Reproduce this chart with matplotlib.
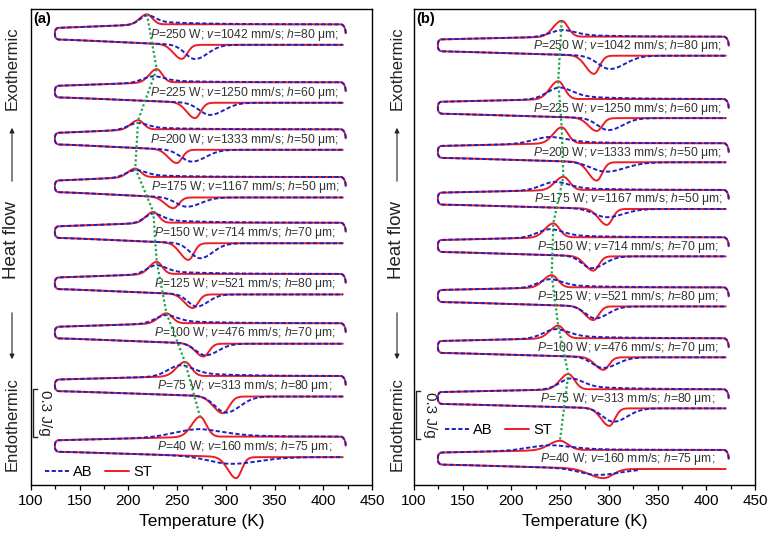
import matplotlib
matplotlib.use("Agg")
import matplotlib.pyplot as plt
import numpy as np

plt.rcParams["font.family"] = ["Liberation Sans", "DejaVu Sans"]
plt.rcParams["mathtext.fontset"] = "custom"
plt.rcParams["mathtext.rm"] = "Liberation Sans"
plt.rcParams["mathtext.it"] = "Liberation Sans:italic"

# process parameters, top loop first
POWER = [250, 225, 200, 175, 150, 125, 100, 75, 40]
SPEED = [1042, 1250, 1333, 1167, 714, 521, 476, 313, 160]
HATCH = [80, 60, 50, 50, 70, 80, 70, 80, 75]
LABEL_T = [222, 222, 222, 223, 226, 226, 226, 229, 229]

# panel (a): baseline (J/g), exothermic / endothermic peaks (T in K, height in J/g, width in K)
A_BASE = [2.879, 2.517, 2.223, 1.925, 1.639, 1.319, 1.011, 0.681, 0.302]
A_EXO_ST_T = [219, 229, 210, 207, 225.5, 229, 239, 258, 273.5]
A_EXO_ST_H = [0.064, 0.083, 0.058, 0.054, 0.069, 0.077, 0.063, 0.089, 0.125]
A_EXO_ST_W = [7.5, 7.5, 7.5, 7.5, 7.5, 7.5, 8, 8.5, 8.5]
A_EXO_AB_T = [220, 226, 210, 208, 226, 229, 239, 254, 273]
A_EXO_AB_H = [0.058, 0.039, 0.041, 0.044, 0.059, 0.056, 0.052, 0.069, 0.048]
A_EXO_AB_W = [8, 11, 10, 10, 9, 10, 11, 13, 25]
A_ENDO_ST_T = [254.7, 268.3, 249.5, 246, 261.5, 266, 277, 296.8, 310.5]
A_ENDO_ST_D = [0.089, 0.097, 0.084, 0.068, 0.105, 0.086, 0.081, 0.105, 0.132]
A_ENDO_ST_W = [7, 7, 7, 7, 7, 7, 7, 8, 7]
A_ENDO_AB_T = [268.3, 283.7, 265, 260, 273.5, 270, 279, 300, 304]
A_ENDO_AB_D = [0.089, 0.076, 0.074, 0.058, 0.094, 0.076, 0.073, 0.101, 0.043]
A_ENDO_AB_W = [10, 11, 11, 11, 10, 9, 10, 11, 22]
A_AB_LOWER_END = [420] * 9
A_GAPS = (0.022, 0.094, 0.128)

# panel (b)
B_BASE = [2.802, 2.412, 2.136, 1.844, 1.548, 1.235, 0.917, 0.598, 0.219]
B_EXO_ST_T = [251.6, 248, 251.6, 253.3, 243, 241.3, 248, 258.4, 249.8]
B_EXO_ST_H = [0.1, 0.1125, 0.1, 0.083, 0.0875, 0.077, 0.079, 0.096, 0.058]
B_EXO_ST_W = [8.5, 8.5, 8.5, 8.5, 8.5, 8.5, 8.5, 8.5, 11]
B_EXO_AB_T = [253, 250, 240, 245, 240, 240, 246, 261.8, 240]
B_EXO_AB_H = [0.042, 0.073, 0.041, 0.052, 0.052, 0.052, 0.058, 0.069, 0.031]
B_EXO_AB_W = [13, 13, 17, 14, 13, 12, 13, 12, 22]
B_ENDO_ST_T = [284.7, 287.5, 287.5, 298, 284, 284, 294.4, 300.5, 294.4]
B_ENDO_ST_D = [0.114, 0.081, 0.115, 0.1, 0.09, 0.086, 0.079, 0.11, 0.058]
B_ENDO_ST_W = [7, 7, 7, 7, 7, 7, 7, 7, 12]
B_ENDO_AB_T = [301, 299.5, 297, 297.8, 282.4, 286, 294, 304.6, 287.5]
B_ENDO_AB_D = [0.083, 0.075, 0.059, 0.052, 0.075, 0.075, 0.067, 0.084, 0.038]
B_ENDO_AB_W = [12, 11, 15, 13, 10, 10, 11, 11, 18]
B_AB_LOWER_END = [420] * 8 + [330]
B_GAPS = (0.016, 0.091, 0.119)

RED = "#ee1c24"
BLUE = "#1f1fc4"
GREEN = "#1fa24a"


def half_gauss(t, t0, s_left, s_right):
    s = np.where(t < t0, s_left, s_right)
    return np.exp(-0.5 * ((t - t0) / s) ** 2)


def exo_st(t, t0, h, w):
    return h * half_gauss(t, t0, w, 0.75 * w)


def exo_ab(t, t0, h, w, frac=0.35, tau=45.0):
    g = np.exp(-0.5 * ((t - t0) / w) ** 2)
    tail = np.exp(-np.clip(t - t0, 0, None) / tau)
    return h * np.where(t < t0, g, (1 - frac) * g + frac * tail)


def soft_ramp(t, a, b, k=6.0):
    # 0 below a, 1 above b, linear in between with rounded corners
    sp = lambda z: k * np.logaddexp(0, z / k)
    return (sp(t - a) - sp(t - b)) / (b - a)


def build_loop(base, gaps, t_exo, t_endo, up_peak, lo_peak, lo_end=420):
    ul, ll, lr = base - gaps[0], base - gaps[1], base - gaps[2]
    # curl at the right end of the cooling branch
    phi = np.linspace(np.pi / 2, 0, 25)
    t_curl = 418 + 5 * np.sin(phi)
    y_curl = base - 0.056 * (1 - np.cos(phi))
    t_up = np.linspace(418, 130, 600)
    y_up = ul + (base - ul) * soft_ramp(t_up, 130, t_exo) + up_peak(t_up)
    t_lo = np.linspace(130, lo_end, 600)
    y_lo = ll + (lr - ll) * soft_ramp(t_lo, 130, t_endo) - lo_peak(t_lo)
    # rounded cap joining the branches at the low temperature end
    th = np.linspace(0, np.pi, 40)
    top, bot = y_up[-1], y_lo[0]
    mid, half = (top + bot) / 2, (top - bot) / 2
    t_cap = 130 - 5.5 * np.abs(np.sin(th)) ** 0.75
    y_cap = mid + half * np.sign(np.cos(th)) * np.abs(np.cos(th)) ** 0.75
    t = np.concatenate([t_curl, t_up, t_cap, t_lo])
    y = np.concatenate([y_curl, y_up, y_cap, y_lo])
    return t, y


def draw_panel(ax, base, gaps, exo_st_p, exo_ab_p, endo_st_p, endo_ab_p, ab_end):
    for i in range(len(base)):
        te, he, we = exo_st_p[0][i], exo_st_p[1][i], exo_st_p[2][i]
        ta, ha, wa = exo_ab_p[0][i], exo_ab_p[1][i], exo_ab_p[2][i]
        tn, dn, wn = endo_st_p[0][i], endo_st_p[1][i], endo_st_p[2][i]
        tb, db, wb = endo_ab_p[0][i], endo_ab_p[1][i], endo_ab_p[2][i]
        t_st, y_st = build_loop(
            base[i], gaps, te, tn,
            lambda t: exo_st(t, te, he, we),
            lambda t: dn * half_gauss(t, tn, 1.2 * wn, 0.8 * wn),
        )
        t_ab, y_ab = build_loop(
            base[i], gaps, te, tn,
            lambda t: exo_ab(t, ta, ha, wa),
            lambda t: db * half_gauss(t, tb, wb, 1.3 * wb),
            lo_end=ab_end[i],
        )
        ax.plot(t_st, y_st, color=RED, lw=1.4, solid_capstyle="round",
                label="ST" if i == 0 else None, zorder=2)
        ax.plot(t_ab, y_ab, color=BLUE, lw=1.4, dashes=(2.2, 1.2),
                label="AB" if i == 0 else None, zorder=3)
        txt = (f"$P$={POWER[i]} W; $v$={SPEED[i]} mm/s; $h$={HATCH[i]} \u03bcm;")
        ax.text(LABEL_T[i], base[i] - gaps[2] / 2, txt, ha="left", va="center",
                fontsize=8.7, color="#333333", zorder=4)
    peak_y = np.array(base) + np.array(exo_st_p[1])
    ax.plot(exo_st_p[0], peak_y, color=GREEN, lw=1.6, ls=(0, (1, 1.1)), zorder=5)


fig = plt.figure(figsize=(7.76, 5.37), dpi=100)
W, H = 776, 537
ax_a = fig.add_axes([31 / W, 1 - 485 / H, 341 / W, 476 / H])
ax_b = fig.add_axes([414 / W, 1 - 485 / H, 341 / W, 476 / H])

draw_panel(ax_a, A_BASE, A_GAPS,
           (A_EXO_ST_T, A_EXO_ST_H, A_EXO_ST_W), (A_EXO_AB_T, A_EXO_AB_H, A_EXO_AB_W),
           (A_ENDO_ST_T, A_ENDO_ST_D, A_ENDO_ST_W), (A_ENDO_AB_T, A_ENDO_AB_D, A_ENDO_AB_W),
           A_AB_LOWER_END)
draw_panel(ax_b, B_BASE, B_GAPS,
           (B_EXO_ST_T, B_EXO_ST_H, B_EXO_ST_W), (B_EXO_AB_T, B_EXO_AB_H, B_EXO_AB_W),
           (B_ENDO_ST_T, B_ENDO_ST_D, B_ENDO_ST_W), (B_ENDO_AB_T, B_ENDO_AB_D, B_ENDO_AB_W),
           B_AB_LOWER_END)

for ax, tag, leg_xy, bar_top, bar_txt_x, ylab_x in [
    (ax_a, "(a)", (0.041, 0.028), 0.602, 114.4, 12),
    (ax_b, "(b)", (0.091, 0.1155), 0.589, 116.4, 397),
]:
    ax.set_xlim(100, 450)
    ax.set_ylim(0, 2.975)
    ax.set_yticks([])
    ax.set_xticks(np.arange(100, 451, 50))
    ax.set_xticks(np.arange(125, 450, 50), minor=True)
    ax.tick_params(axis="x", which="major", direction="out", length=3.5, width=0.9,
                   labelsize=11, pad=3)
    ax.tick_params(axis="x", which="minor", direction="out", length=3, width=0.9)
    for sp in ax.spines.values():
        sp.set_linewidth(1.0)
    ax.set_xlabel("Temperature (K)", fontsize=12.5, labelpad=4)
    ax.text(0.006, 0.993, tag, transform=ax.transAxes, ha="left", va="top",
            fontsize=10.5, fontweight="bold")
    # 0.3 J/g scale bar
    ax.plot([106, 102.5, 102.5, 106], [bar_top, bar_top, bar_top - 0.3, bar_top - 0.3],
            color="#222222", lw=1.0)
    ax.text(bar_txt_x, bar_top - 0.15, "0.3 J/g", rotation=-90, ha="center", va="center",
            fontsize=11, color="#222222")
    handles, labels = ax.get_legend_handles_labels()
    order = [labels.index("AB"), labels.index("ST")]
    ax.legend([handles[k] for k in order], [labels[k] for k in order], ncol=2,
              loc="center left", bbox_to_anchor=leg_xy, frameon=False, fontsize=10.5,
              handlelength=1.65, handletextpad=0.3, columnspacing=0.85,
              borderpad=0, borderaxespad=0)

    # y-axis wording with arrows
    fx = ylab_x / W
    fig.text(fx, 1 - 68 / H, "Exothermic", rotation=90, ha="center", va="center",
             fontsize=12, color="#222222")
    fig.text(fx, 1 - 240 / H, "Heat flow", rotation=90, ha="center", va="center",
             fontsize=13.5, color="#222222")
    fig.text(fx, 1 - 424 / H, "Endothermic", rotation=90, ha="center", va="center",
             fontsize=12, color="#222222")
    fig.add_artist(matplotlib.patches.FancyArrowPatch(
        (fx, 1 - 184 / H), (fx, 1 - 125 / H), transform=fig.transFigure,
        arrowstyle="-|>", mutation_scale=7, lw=0.8, color="#222222"))
    fig.add_artist(matplotlib.patches.FancyArrowPatch(
        (fx, 1 - 310 / H), (fx, 1 - 362 / H), transform=fig.transFigure,
        arrowstyle="-|>", mutation_scale=7, lw=0.8, color="#222222"))

fig.savefig("out.png", dpi=100)
